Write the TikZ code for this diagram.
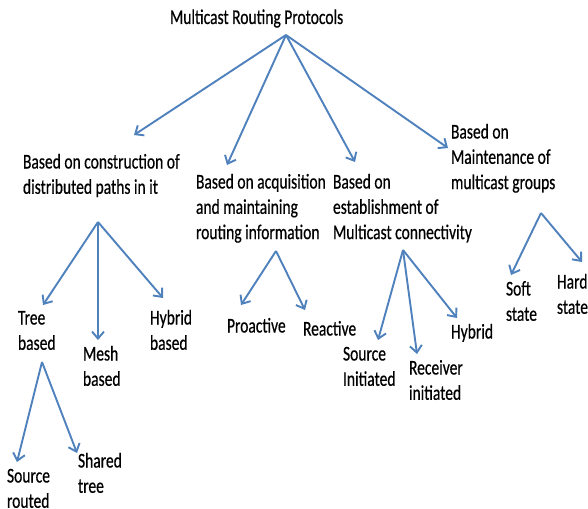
\documentclass[tikz,border=0pt]{standalone}
\usepackage{fontspec}
\setmainfont[FakeStretch=0.74,FakeBold=0.5]{Carlito}
\usetikzlibrary{arrows.meta}
\definecolor{lineblue}{RGB}{79,129,189}
\newcommand\mlines[1]{\begin{tabular}[t]{@{}l@{}}#1\end{tabular}}
\tikzset{
  lbl/.style={anchor=base west, inner sep=0pt, outer sep=0pt, text=black,
    font=\fontsize{21}{25.3}\selectfont},
  arr/.style={draw=lineblue, line width=1.9pt,
    -{Straight Barb[length=7pt,width=12pt,line width=1.9pt]}}
}
\begin{document}
\begin{tikzpicture}[x=1pt,y=-1pt]
\useasboundingbox (0,0) rectangle (588,508);
\fill[white] (0,0) rectangle (588,508);
\renewcommand\arraystretch{1}
% text nodes
\node[lbl] (root) at (170,24) {Multicast Routing Protocols};
\node[lbl] (c1) at (23,168.5) {\mlines{Based on construction of\\distributed paths in it}};
\node[lbl] (c2) at (196,188.5) {\mlines{Based on acquisition\\and maintaining\\routing information}};
\node[lbl] (c3) at (333,188.5) {\mlines{Based on\\establishment of\\Multicast connectivity}};
\node[lbl] (c4) at (451,138.5) {\mlines{Based on\\Maintenance of\\multicast groups}};
\node[lbl] (tree) at (18,324.5) {\mlines{Tree\\based}};
\node[lbl] (mesh) at (83,360.5) {\mlines{Mesh\\based}};
\node[lbl] (hybb) at (150,324.5) {\mlines{Hybrid\\based}};
\node[lbl] (proa) at (227,332.5) {Proactive};
\node[lbl] (reac) at (303,335.5) {Reactive};
\node[lbl] (srci) at (343,360.5) {\mlines{Source\\Initiated}};
\node[lbl] (recv) at (409,374.5) {\mlines{Receiver\\initiated}};
\node[lbl] (hyb) at (451,338.5) {Hybrid};
\node[lbl] (soft) at (506,295.5) {\mlines{Soft\\state}};
\node[lbl] (hard) at (557,288.5) {\mlines{Hard\\state}};
\node[lbl] (srcr) at (7,482.5) {\mlines{Source\\routed}};
\node[lbl] (shar) at (78,467.5) {\mlines{Shared\\tree}};
% branching points below parents
\coordinate (root-a) at (286,35);
\coordinate (c1-a) at (98,222);
\coordinate (c2-a) at (276,251);
\coordinate (c3-a) at (403,250);
\coordinate (c4-a) at (541,213);
\coordinate (tree-a) at (42,362);
% arrow tips above children
\coordinate (c1-t) at (134,135);
\coordinate (c2-t) at (227,165);
\coordinate (c3-t) at (355,162);
\coordinate (c4-t) at (448,148);
\coordinate (tree-t) at (43,305);
\coordinate (mesh-t) at (98,340);
\coordinate (hybb-t) at (163,298);
\coordinate (srcr-t) at (17,462);
\coordinate (shar-t) at (77,453);
\coordinate (proa-t) at (241,305);
\coordinate (reac-t) at (305,310);
\coordinate (srci-t) at (378,340);
\coordinate (recv-t) at (417,354);
\coordinate (hyb-t) at (457,318);
\coordinate (soft-t) at (511,275);
\coordinate (hard-t) at (582,262);
% connectors
\draw[arr] (root-a) -- (c1-t);
\draw[arr] (root-a) -- (c2-t);
\draw[arr] (root-a) -- (c3-t);
\draw[arr] (root-a) -- (c4-t);
\draw[arr] (c1-a) -- (tree-t);
\draw[arr] (c1-a) -- (mesh-t);
\draw[arr] (c1-a) -- (hybb-t);
\draw[arr] (tree-a) -- (srcr-t);
\draw[arr] (tree-a) -- (shar-t);
\draw[arr] (c2-a) -- (proa-t);
\draw[arr] (c2-a) -- (reac-t);
\draw[arr] (c3-a) -- (srci-t);
\draw[arr] (c3-a) -- (recv-t);
\draw[arr] (c3-a) -- (hyb-t);
\draw[arr] (c4-a) -- (soft-t);
\draw[arr] (c4-a) -- (hard-t);
\end{tikzpicture}
\end{document}
